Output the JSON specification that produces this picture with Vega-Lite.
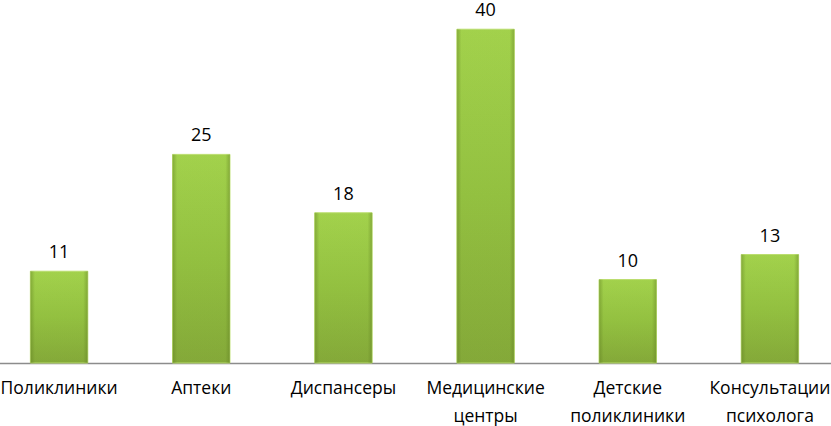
{
  "$schema": "https://vega.github.io/schema/vega-lite/v6.json",
  "width": 831,
  "height": 363,
  "autosize": {"type": "none"},
  "padding": {"left": 0, "top": 0, "right": 0, "bottom": 63},
  "background": "white",
  "config": {"view": {"stroke": null}, "font": "Open Sans"},
  "data": {"values": [
    {"cat": "Поликлиники", "v": 11},
    {"cat": "Аптеки", "v": 25},
    {"cat": "Диспансеры", "v": 18},
    {"cat": "Медицинские центры", "v": 40},
    {"cat": "Детские поликлиники", "v": 10},
    {"cat": "Консультации психолога", "v": 13}
  ]},
  "encoding": {
    "x": {"field": "cat", "type": "nominal", "sort": null,
      "scale": {"range": [-12, 841], "paddingInner": 0.596, "paddingOuter": 0.298},
      "axis": {"title": null, "labelAngle": 0, "ticks": false, "domainColor": "#8c8c8c", "domainWidth": 1.5,
        "labelFont": "Open Sans", "labelFontSize": 17.5, "labelColor": "#000000", "labelPadding": 30,
        "labelExpr": "split(datum.label, ' ')", "labelLineHeight": 28, "labelBaseline": "alphabetic", "labelLimit": 0}},
    "y": {"field": "v", "type": "quantitative", "scale": {"domain": [0, 43.5]}, "axis": null}
  },
  "layer": [
    {"mark": {"type": "bar", "color": {"gradient": "linear", "x1": 0, "x2": 0, "y1": 0, "y2": 1,
      "stops": [{"offset": 0, "color": "#a6d64e"}, {"offset": 0.5, "color": "#96c442"}, {"offset": 1, "color": "#86ab3a"}]},
      "stroke": "#bde070", "strokeWidth": 1}},
    {"mark": {"type": "bar", "color": {"gradient": "linear", "x1": 0, "x2": 1, "y1": 0, "y2": 0,
      "stops": [{"offset": 0, "color": "rgba(90,120,30,0.45)"}, {"offset": 0.08, "color": "rgba(90,120,30,0.05)"}, {"offset": 0.92, "color": "rgba(90,120,30,0.05)"}, {"offset": 1, "color": "rgba(90,120,30,0.45)"}]}}},
    {"mark": {"type": "text", "baseline": "alphabetic", "dy": -13, "fontSize": 18, "font": "Open Sans", "color": "#000000"},
      "encoding": {"text": {"field": "v", "type": "quantitative"}}}
  ]
}
